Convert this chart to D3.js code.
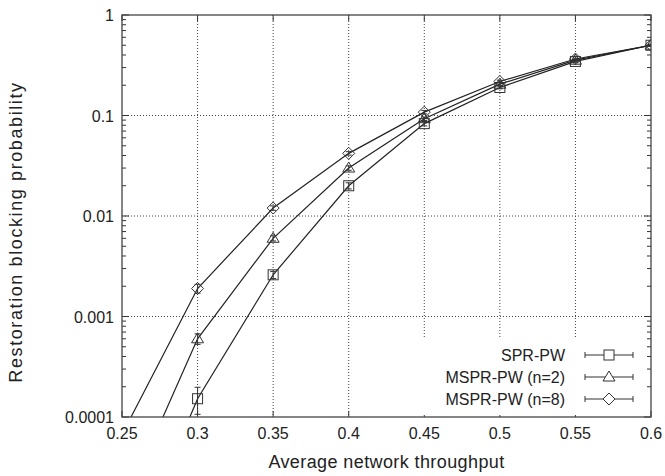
<!DOCTYPE html>
<html>
<head>
<meta charset="utf-8">
<script src="https://cdn.jsdelivr.net/npm/d3@7"></script>
<style>
  body { margin: 0; background: #fff; }
  text { font-family: "Liberation Sans", Arial, sans-serif; fill: #222; }
</style>
</head>
<body>
<div id="chart"></div>
<script>
const throughput = [0.25, 0.3, 0.35, 0.4, 0.45, 0.5, 0.55, 0.6];
const sprPw = [0.0000025, 0.000152, 0.0026, 0.020, 0.083, 0.19, 0.345, 0.5];
const msprPw2 = [0.000012, 0.0006, 0.006, 0.030, 0.093, 0.205, 0.355, 0.5];
const msprPw8 = [0.000067, 0.0019, 0.012, 0.042, 0.108, 0.218, 0.365, 0.5];
// relative error half-widths
const errSpr = [0, 0.30, 0.08, 0.07, 0.05, 0.03, 0.02, 0.02];
const errMspr2 = [0, 0.12, 0.06, 0.05, 0.04, 0.03, 0.02, 0.02];
const errMspr8 = [0, 0.10, 0.05, 0.04, 0.04, 0.03, 0.02, 0.02];
const xTicks = [0.25, 0.3, 0.35, 0.4, 0.45, 0.5, 0.55, 0.6];
const yTicks = [0.0001, 0.001, 0.01, 0.1, 1];
const seriesNames = ["SPR-PW", "MSPR-PW (n=2)", "MSPR-PW (n=8)"];

const width = 665;
const height = 476;
const margin = { top: 15, right: 14, bottom: 59, left: 122 };
const w = width - margin.left - margin.right;
const h = height - margin.top - margin.bottom;
const ink = "#333";

const svg = d3.select("#chart").append("svg")
  .attr("width", width)
  .attr("height", height);

const g = svg.append("g")
  .attr("transform", `translate(${margin.left}, ${margin.top})`);

const x = d3.scaleLinear().domain([0.25, 0.6]).range([0, w]);
const y = d3.scaleLog().domain([0.0001, 1]).range([h, 0]);

svg.append("defs").append("clipPath").attr("id", "clip")
  .append("rect").attr("width", w).attr("height", h);

// grid
g.selectAll(".gx").data(xTicks.slice(1, -1)).join("line")
  .attr("x1", d => x(d)).attr("x2", d => x(d))
  .attr("y1", 0).attr("y2", h)
  .attr("stroke", "#444").attr("stroke-width", 1).attr("stroke-dasharray", "1,2");
g.selectAll(".gy").data(yTicks.slice(1, -1)).join("line")
  .attr("x1", 0).attr("x2", w)
  .attr("y1", d => y(d)).attr("y2", d => y(d))
  .attr("stroke", "#444").attr("stroke-width", 1).attr("stroke-dasharray", "1,2");

// minor ticks on log axis
const minor = [];
for (let e = -4; e < 0; e++) for (let m = 2; m <= 9; m++) minor.push(m * Math.pow(10, e));
g.selectAll(".mtl").data(minor).join("line")
  .attr("x1", 0).attr("x2", 4).attr("y1", d => y(d)).attr("y2", d => y(d))
  .attr("stroke", ink);
g.selectAll(".mtr").data(minor).join("line")
  .attr("x1", w - 4).attr("x2", w).attr("y1", d => y(d)).attr("y2", d => y(d))
  .attr("stroke", ink);
g.selectAll(".Mtl").data(yTicks).join("line")
  .attr("x1", 0).attr("x2", 7).attr("y1", d => y(d)).attr("y2", d => y(d))
  .attr("stroke", ink);
g.selectAll(".Mtr").data(yTicks).join("line")
  .attr("x1", w - 7).attr("x2", w).attr("y1", d => y(d)).attr("y2", d => y(d))
  .attr("stroke", ink);
g.selectAll(".xtb").data(xTicks).join("line")
  .attr("x1", d => x(d)).attr("x2", d => x(d)).attr("y1", h).attr("y2", h - 6)
  .attr("stroke", ink);
g.selectAll(".xtt").data(xTicks).join("line")
  .attr("x1", d => x(d)).attr("x2", d => x(d)).attr("y1", 0).attr("y2", 6)
  .attr("stroke", ink);

// tick labels
g.selectAll(".xl").data(xTicks).join("text")
  .attr("x", d => x(d)).attr("y", h + 22)
  .attr("text-anchor", "middle").attr("font-size", 16)
  .text(d => d3.format("")(d));
g.selectAll(".yl").data(yTicks).join("text")
  .attr("x", -8).attr("y", d => y(d) + 6)
  .attr("text-anchor", "end").attr("font-size", 16)
  .text(d => String(d));

// axis titles
g.append("text").attr("x", w / 2).attr("y", h + 51)
  .attr("text-anchor", "middle").attr("font-size", 18)
  .attr("letter-spacing", 0.4)
  .text("Average network throughput");
svg.append("text")
  .attr("transform", `translate(22, ${margin.top + h / 2 + 16}) rotate(-90)`)
  .attr("text-anchor", "middle").attr("font-size", 18)
  .attr("letter-spacing", 1.6)
  .text("Restoration blocking probability");

// series
const series = [
  { name: seriesNames[0], vals: sprPw, err: errSpr, shape: "square" },
  { name: seriesNames[1], vals: msprPw2, err: errMspr2, shape: "triangle" },
  { name: seriesNames[2], vals: msprPw8, err: errMspr8, shape: "diamond" }
];

function marker(sel, shape) {
  if (shape === "square") {
    sel.append("rect").attr("x", -5).attr("y", -5).attr("width", 10).attr("height", 10)
      .attr("fill", "none").attr("stroke", ink);
  } else if (shape === "triangle") {
    sel.append("path").attr("d", "M0,-6L6,4L-6,4Z").attr("fill", "none").attr("stroke", ink);
  } else {
    sel.append("path").attr("d", "M0,-6L6,0L0,6L-6,0Z").attr("fill", "none").attr("stroke", ink);
  }
}

const plot = g.append("g").attr("clip-path", "url(#clip)");
const line = d3.line().x((d, i) => x(throughput[i])).y(d => y(d));

series.forEach(s => {
  plot.append("path").datum(s.vals)
    .attr("d", line).attr("fill", "none").attr("stroke", "#222").attr("stroke-width", 1.2);
  s.vals.forEach((v, i) => {
    if (v < 0.0001) return;
    const cx = x(throughput[i]);
    const lo = y(v * (1 - s.err[i]));
    const hi = y(v * (1 + s.err[i]));
    plot.append("line").attr("x1", cx).attr("x2", cx).attr("y1", lo).attr("y2", hi).attr("stroke", ink);
    plot.append("line").attr("x1", cx - 3).attr("x2", cx + 3).attr("y1", lo).attr("y2", lo).attr("stroke", ink);
    plot.append("line").attr("x1", cx - 3).attr("x2", cx + 3).attr("y1", hi).attr("y2", hi).attr("stroke", ink);
    const m = plot.append("g").attr("transform", `translate(${cx}, ${y(v)})`);
    marker(m, s.shape);
  });
});

// legend
const legend = g.append("g").attr("transform", `translate(${w - 225}, ${h - 80})`);
legend.append("rect").attr("x", -15).attr("y", 0).attr("width", 236).attr("height", 78).attr("fill", "#fff");
series.forEach((s, i) => {
  const ly = 18 + i * 22;
  legend.append("text").attr("x", 214 - 75).attr("y", ly + 6)
    .attr("text-anchor", "end").attr("font-size", 16).text(s.name);
  legend.append("line").attr("x1", 159).attr("x2", 207).attr("y1", ly).attr("y2", ly).attr("stroke", ink);
  legend.append("line").attr("x1", 159).attr("x2", 159).attr("y1", ly - 3).attr("y2", ly + 3).attr("stroke", ink);
  legend.append("line").attr("x1", 207).attr("x2", 207).attr("y1", ly - 3).attr("y2", ly + 3).attr("stroke", ink);
  const m = legend.append("g").attr("transform", `translate(183, ${ly})`);
  marker(m, s.shape);
  m.select("rect,path").attr("fill", "#fff");
});

// frame
g.append("rect").attr("width", w).attr("height", h)
  .attr("fill", "none").attr("stroke", "#444").attr("stroke-width", 1.3);
</script>
</body>
</html>
